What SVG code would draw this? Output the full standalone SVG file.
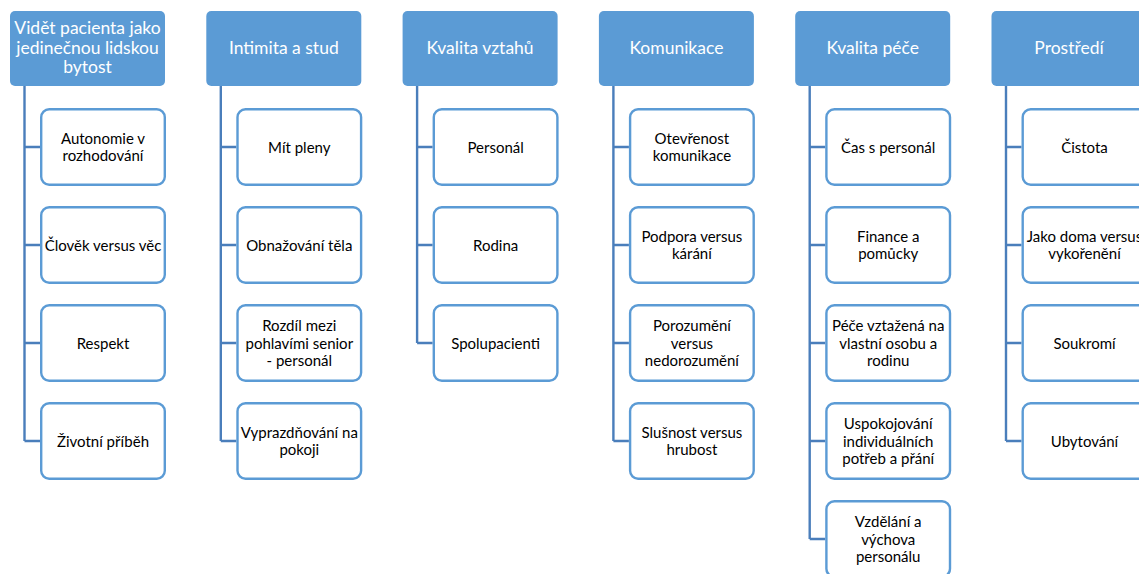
<svg xmlns="http://www.w3.org/2000/svg" width="1139" height="574" viewBox="0 0 1139 574">
  <style>
    .hdr rect { fill: #5B9BD5; }
    .hdr text { fill: #FFFFFF; font-family: Lato, "Liberation Sans", sans-serif; font-size: 17.5px; text-anchor: middle; }
    .item rect { fill: #FFFFFF; stroke: #5B9BD5; stroke-width: 2.4; }
    .item text { fill: #000000; font-family: Lato, "Liberation Sans", sans-serif; font-size: 15px; text-anchor: middle; }
    #connectors path { fill: none; stroke: #4A7EBB; stroke-width: 2.4; }
  </style>

  <!-- tree connectors: one trunk per column, one branch per item -->
  <g id="connectors">
    <path d="M24.5 86 V441 M24.5 147 H40 M24.5 245 H40 M24.5 343 H40 M24.5 441 H40"/>
    <path d="M220.8 86 V441 M220.8 147 H236.3 M220.8 245 H236.3 M220.8 343 H236.3 M220.8 441 H236.3"/>
    <path d="M417.1 86 V343 M417.1 147 H432.6 M417.1 245 H432.6 M417.1 343 H432.6"/>
    <path d="M613.4 86 V441 M613.4 147 H628.9 M613.4 245 H628.9 M613.4 343 H628.9 M613.4 441 H628.9"/>
    <path d="M809.7 86 V539 M809.7 147 H825.2 M809.7 245 H825.2 M809.7 343 H825.2 M809.7 441 H825.2 M809.7 539 H825.2"/>
    <path d="M1006 86 V441 M1006 147 H1021.5 M1006 245 H1021.5 M1006 343 H1021.5 M1006 441 H1021.5"/>
  </g>

  <!-- column 1 -->
  <g id="h1" class="hdr">
    <rect x="10" y="11" width="155" height="75" rx="5"/>
    <text x="87.5" y="34.3">Vidět pacienta jako</text>
    <text x="87.5" y="53.8">jedinečnou lidskou</text>
    <text x="87.5" y="73.3">bytost</text>
  </g>
  <g id="h1-1" class="item">
    <rect x="41.2" y="109.2" width="123.6" height="75.6" rx="8"/>
    <text x="103" y="143.6">Autonomie v</text>
    <text x="103" y="161.4">rozhodování</text>
  </g>
  <g id="h1-2" class="item">
    <rect x="41.2" y="207.2" width="123.6" height="75.6" rx="8"/>
    <text x="103" y="250.5">Člověk versus věc</text>
  </g>
  <g id="h1-3" class="item">
    <rect x="41.2" y="305.2" width="123.6" height="75.6" rx="8"/>
    <text x="103" y="348.5">Respekt</text>
  </g>
  <g id="h1-4" class="item">
    <rect x="41.2" y="403.2" width="123.6" height="75.6" rx="8"/>
    <text x="103" y="446.5">Životní příběh</text>
  </g>

  <!-- column 2 -->
  <g id="h2" class="hdr">
    <rect x="206.3" y="11" width="155" height="75" rx="5"/>
    <text x="283.8" y="54.3">Intimita a stud</text>
  </g>
  <g id="h2-1" class="item">
    <rect x="237.5" y="109.2" width="123.6" height="75.6" rx="8"/>
    <text x="299.3" y="152.5">Mít pleny</text>
  </g>
  <g id="h2-2" class="item">
    <rect x="237.5" y="207.2" width="123.6" height="75.6" rx="8"/>
    <text x="299.3" y="250.5">Obnažování těla</text>
  </g>
  <g id="h2-3" class="item">
    <rect x="237.5" y="305.2" width="123.6" height="75.6" rx="8"/>
    <text x="299.3" y="330.7">Rozdíl mezi</text>
    <text x="299.3" y="348.5">pohlavími senior</text>
    <text x="299.3" y="366.3">- personál</text>
  </g>
  <g id="h2-4" class="item">
    <rect x="237.5" y="403.2" width="123.6" height="75.6" rx="8"/>
    <text x="299.3" y="437.6">Vyprazdňování na</text>
    <text x="299.3" y="455.4">pokoji</text>
  </g>

  <!-- column 3 -->
  <g id="h3" class="hdr">
    <rect x="402.6" y="11" width="155" height="75" rx="5"/>
    <text x="480.1" y="54.3">Kvalita vztahů</text>
  </g>
  <g id="h3-1" class="item">
    <rect x="433.8" y="109.2" width="123.6" height="75.6" rx="8"/>
    <text x="495.6" y="152.5">Personál</text>
  </g>
  <g id="h3-2" class="item">
    <rect x="433.8" y="207.2" width="123.6" height="75.6" rx="8"/>
    <text x="495.6" y="250.5">Rodina</text>
  </g>
  <g id="h3-3" class="item">
    <rect x="433.8" y="305.2" width="123.6" height="75.6" rx="8"/>
    <text x="495.6" y="348.5">Spolupacienti</text>
  </g>

  <!-- column 4 -->
  <g id="h4" class="hdr">
    <rect x="598.9" y="11" width="155" height="75" rx="5"/>
    <text x="676.4" y="54.3">Komunikace</text>
  </g>
  <g id="h4-1" class="item">
    <rect x="630.1" y="109.2" width="123.6" height="75.6" rx="8"/>
    <text x="691.9" y="143.6">Otevřenost</text>
    <text x="691.9" y="161.4">komunikace</text>
  </g>
  <g id="h4-2" class="item">
    <rect x="630.1" y="207.2" width="123.6" height="75.6" rx="8"/>
    <text x="691.9" y="241.6">Podpora versus</text>
    <text x="691.9" y="259.4">kárání</text>
  </g>
  <g id="h4-3" class="item">
    <rect x="630.1" y="305.2" width="123.6" height="75.6" rx="8"/>
    <text x="691.9" y="330.7">Porozumění</text>
    <text x="691.9" y="348.5">versus</text>
    <text x="691.9" y="366.3">nedorozumění</text>
  </g>
  <g id="h4-4" class="item">
    <rect x="630.1" y="403.2" width="123.6" height="75.6" rx="8"/>
    <text x="691.9" y="437.6">Slušnost versus</text>
    <text x="691.9" y="455.4">hrubost</text>
  </g>

  <!-- column 5 -->
  <g id="h5" class="hdr">
    <rect x="795.2" y="11" width="155" height="75" rx="5"/>
    <text x="872.7" y="54.3">Kvalita péče</text>
  </g>
  <g id="h5-1" class="item">
    <rect x="826.4" y="109.2" width="123.6" height="75.6" rx="8"/>
    <text x="888.2" y="152.5">Čas s personál</text>
  </g>
  <g id="h5-2" class="item">
    <rect x="826.4" y="207.2" width="123.6" height="75.6" rx="8"/>
    <text x="888.2" y="241.6">Finance a</text>
    <text x="888.2" y="259.4">pomůcky</text>
  </g>
  <g id="h5-3" class="item">
    <rect x="826.4" y="305.2" width="123.6" height="75.6" rx="8"/>
    <text x="888.2" y="330.7">Péče vztažená na</text>
    <text x="888.2" y="348.5">vlastní osobu a</text>
    <text x="888.2" y="366.3">rodinu</text>
  </g>
  <g id="h5-4" class="item">
    <rect x="826.4" y="403.2" width="123.6" height="75.6" rx="8"/>
    <text x="888.2" y="428.7">Uspokojování</text>
    <text x="888.2" y="446.5">individuálních</text>
    <text x="888.2" y="464.3">potřeb a přání</text>
  </g>
  <g id="h5-5" class="item">
    <rect x="826.4" y="501.2" width="123.6" height="75.6" rx="8"/>
    <text x="888.2" y="526.7">Vzdělání a</text>
    <text x="888.2" y="544.5">výchova</text>
    <text x="888.2" y="562.3">personálu</text>
  </g>

  <!-- column 6 (runs past the right edge) -->
  <g id="h6" class="hdr">
    <rect x="991.5" y="11" width="155" height="75" rx="5"/>
    <text x="1069" y="54.3">Prostředí</text>
  </g>
  <g id="h6-1" class="item">
    <rect x="1022.7" y="109.2" width="123.6" height="75.6" rx="8"/>
    <text x="1084.5" y="152.5">Čistota</text>
  </g>
  <g id="h6-2" class="item">
    <rect x="1022.7" y="207.2" width="123.6" height="75.6" rx="8"/>
    <text x="1084.5" y="241.6">Jako doma versus</text>
    <text x="1084.5" y="259.4">vykořenění</text>
  </g>
  <g id="h6-3" class="item">
    <rect x="1022.7" y="305.2" width="123.6" height="75.6" rx="8"/>
    <text x="1084.5" y="348.5">Soukromí</text>
  </g>
  <g id="h6-4" class="item">
    <rect x="1022.7" y="403.2" width="123.6" height="75.6" rx="8"/>
    <text x="1084.5" y="446.5">Ubytování</text>
  </g>
</svg>
